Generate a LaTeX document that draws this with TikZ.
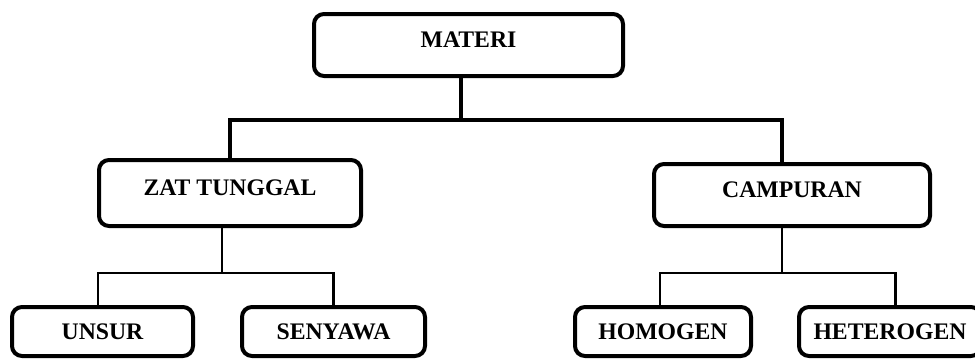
\documentclass[tikz,border=0pt]{standalone}
\usepackage{fontspec}
\setmainfont{Liberation Serif}
\usetikzlibrary{positioning}

\tikzset{
  box/.style={draw, line width=3pt, rounded corners=7.5pt, inner sep=0pt,
    font=\fontsize{17.8}{20}\selectfont\bfseries, text height=12pt},
  headbox/.style={box, text depth=9pt},
  leafbox/.style={box, text depth=0pt, minimum height=36.75pt},
  trunk/.style={line width=3pt},
  branch/.style={line width=2pt}
}

\begin{document}
\begin{tikzpicture}[x=0.75pt,y=-0.75pt]
    \useasboundingbox (0,0) rectangle (975,361);

    % levels
    \node[headbox, minimum width=231.75pt, minimum height=46.5pt] (materi) at (468.5,45) {MATERI};
    \node[headbox, minimum width=196.5pt, minimum height=49.5pt] (zat) at (230,193) {ZAT TUNGGAL};
    \node[headbox, minimum width=207pt, minimum height=46.5pt] (campuran) at (792,195) {CAMPURAN};
    \node[leafbox, minimum width=135.75pt] (unsur) at (102.5,331.5) {UNSUR};
    \node[leafbox, minimum width=137.25pt] (senyawa) at (333.5,331.5) {SENYAWA};
    \node[leafbox, minimum width=132pt] (homogen) at (663,331.5) {HOMOGEN};
    \node[leafbox, minimum width=136.5pt] (heterogen) at (890,331.5) {HETEROGEN};

    \coordinate (jl) at (230,120);
    \coordinate (jr) at (782,120);
    \coordinate (kl) at (98,273);
    \coordinate (kr) at (660,273);

    \draw[trunk] ([xshift=-6pt]materi.south) -- ([xshift=-6pt]materi.south |- jl);
    \draw[trunk] (zat.north) -- (jl) -- (jr) -- (jr |- campuran.north);

    \draw[branch] ([xshift=-6pt]zat.south) -- ([xshift=-6pt]zat.south |- kl);
    \draw[branch] (kl |- unsur.north) -- (kl) -| (senyawa.north);

    \draw[branch] (jr |- campuran.south) -- (jr |- kr);
    \draw[branch] (kr |- homogen.north) -- (kr) -| ([xshift=4pt]heterogen.north);
\end{tikzpicture}
\end{document}
